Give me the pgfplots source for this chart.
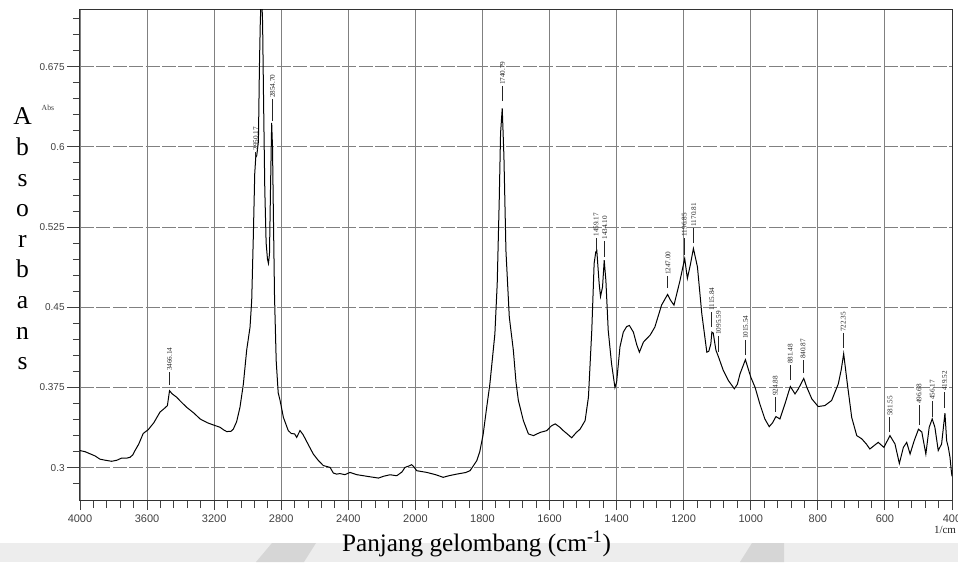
\documentclass[border=0pt]{standalone}
\usepackage{pgfplots}
\pgfplotsset{compat=1.18}
\usepackage{fontspec}
\setmainfont{Liberation Serif}
\newfontfamily\sansf{Liberation Sans}
\newcommand{\pkfont}{\fontsize{3.6}{4}\selectfont}
\newcommand{\pk}[4]{\node[rotate=90, anchor=west, inner sep=0pt, font=\pkfont, text=black!85] at (axis cs:#1,#2) {\rule[1.0pt]{#3}{0.45pt}\hspace{0.6pt}#4};}
\begin{document}
\begin{tikzpicture}
% faint watermark band at the bottom of the scan
\fill[black!7] (-40pt,-31pt) rectangle (439pt,-21.5pt);
\fill[black!16] (88pt,-31pt) -- (96pt,-21.5pt) -- (118pt,-21.5pt) -- (112pt,-31pt) -- cycle;
\fill[black!16] (330pt,-31pt) -- (336pt,-21.5pt) -- (352pt,-21.5pt) -- (352pt,-31pt) -- cycle;
\begin{axis}[
  scale only axis, width=436pt, height=245pt,
  xmin=4000, xmax=400, ymin=0.2698, ymax=0.728,
  x coord trafo/.code={\pgfmathparse{(4000-#1)/400+max(0,2000-#1)/400}},
  xtick={4000,3600,3200,2800,2400,2000,1800,1600,1400,1200,1000,800,600,400},
  xticklabels={4000,3600,3200,2800,2400,2000,1800,1600,1400,1200,1000,800,600,400},
  minor x tick num=4,
  ytick={0.3,0.375,0.45,0.525,0.6,0.675},
  yticklabels={0.3,0.375,0.45,0.525,0.6,0.675},
  minor ytick={0.285,0.315,0.33,0.345,0.36,0.39,0.405,0.42,0.435,0.465,0.48,0.495,0.51,0.54,0.555,0.57,0.585,0.615,0.63,0.645,0.66,0.69,0.705,0.72},
  tick pos=left,
  tick align=outside,
  major tick length=6.5pt, minor tick length=3.5pt,
  xtick style={/pgfplots/major tick length=5pt, /pgfplots/minor tick length=4pt},
  every tick/.style={black!75, line width=0.45pt},
  axis line style={black!80, line width=0.5pt},
  grid=major,
  major grid style={black!50, line width=0.45pt},
  y grid style={dash pattern=on 7pt off 1.2pt},
  /pgf/number format/assume math mode=true,
  xticklabel style={font=\sansf\fontsize{5.5}{6}\selectfont, text=black!75, inner sep=0.5pt},
  yticklabel style={font=\sansf\fontsize{5}{6}\selectfont, text=black!75, inner sep=1pt},
]
\addplot[black, line width=0.5pt] coordinates {
(4000,0.316) (3970,0.315) (3940,0.313) (3910,0.311) (3881,0.308) (3850,0.307) (3811,0.306) (3780,0.307)
(3752,0.309) (3720,0.309) (3702,0.3097) (3685,0.312) (3672,0.316) (3650,0.322) (3623,0.332) (3593,0.3356)
(3560,0.342) (3523,0.352) (3500,0.355) (3479,0.358) (3466,0.372) (3450,0.369) (3424,0.366) (3400,0.362)
(3364,0.3565) (3320,0.351) (3284,0.3456) (3240,0.342) (3205,0.340) (3165,0.3378) (3140,0.335) (3125,0.3338)
(3100,0.334) (3086,0.336) (3066,0.343) (3046,0.3565) (3026,0.378) (3006,0.41) (2986,0.4315) (2976,0.4566)
(2966,0.519) (2958,0.575) (2952,0.590) (2946,0.592) (2936,0.605) (2930,0.675) (2925,0.715) (2921,0.735)
(2915,0.735) (2911,0.715) (2905,0.64) (2898,0.56) (2890,0.51) (2882,0.495) (2876,0.491) (2870,0.50)
(2864,0.56) (2857,0.6225) (2852,0.60) (2847,0.54) (2840,0.46) (2830,0.40) (2818,0.37) (2807,0.363)
(2787,0.347) (2758,0.3347) (2740,0.332) (2720,0.3316) (2708,0.3284) (2688,0.3347) (2670,0.331) (2650,0.325)
(2609,0.3128) (2580,0.307) (2549,0.302) (2509,0.3003) (2489,0.295) (2470,0.294) (2450,0.2945) (2420,0.2935)
(2390,0.2956) (2350,0.2935) (2310,0.2925) (2270,0.2915) (2220,0.2903) (2190,0.292) (2151,0.2934) (2111,0.2925)
(2080,0.296) (2062,0.3003) (2040,0.3015) (2022,0.3028) (2010,0.301) (1996,0.2972) (1966,0.2956) (1940,0.2935)
(1917,0.291) (1900,0.2925) (1877,0.294) (1850,0.2955) (1837,0.2972) (1817,0.3066) (1808,0.315) (1798,0.331)
(1788,0.355) (1778,0.378) (1763,0.425) (1756,0.472) (1750,0.55) (1746,0.6128) (1741,0.636) (1736,0.591)
(1730,0.503) (1720,0.441) (1708,0.41) (1700,0.38) (1693,0.363) (1678,0.344) (1663,0.3316) (1648,0.33)
(1628,0.333) (1608,0.3347) (1595,0.339) (1583,0.341) (1570,0.338) (1559,0.3347) (1545,0.331) (1534,0.328)
(1520,0.333) (1509,0.336) (1494,0.344) (1484,0.366) (1474,0.4284) (1467,0.491) (1462,0.502) (1459,0.503)
(1455,0.485) (1452,0.472) (1448,0.46) (1442,0.469) (1437,0.494) (1432,0.475) (1425,0.4284) (1415,0.397)
(1405,0.375) (1400,0.38) (1390,0.413) (1380,0.4268) (1370,0.432) (1362,0.433) (1350,0.4268) (1340,0.415)
(1332,0.408) (1320,0.4175) (1300,0.424) (1286,0.4315) (1266,0.452) (1248,0.462) (1240,0.457) (1229,0.452)
(1211,0.475) (1197,0.4956) (1189,0.477) (1180,0.49) (1171,0.505) (1159,0.4878) (1146,0.444) (1131,0.408)
(1125,0.409) (1119,0.416) (1116,0.4268) (1112,0.426) (1104,0.41) (1096,0.4034) (1082,0.391) (1067,0.3816)
(1049,0.3738) (1040,0.378) (1032,0.3878) (1016,0.401) (1000,0.3847) (987,0.375) (973,0.3597) (958,0.3456)
(945,0.3384) (935,0.342) (925,0.3478) (913,0.3456) (898,0.3597) (888,0.370) (882,0.3759) (868,0.369)
(858,0.3738) (842,0.3835) (833,0.3753) (818,0.3644) (799,0.3572) (779,0.3581) (759,0.3628) (739,0.3784)
(730,0.392) (723,0.4066) (712,0.3784) (699,0.347) (684,0.33) (669,0.327) (655,0.322) (645,0.3175)
(620,0.3237) (603,0.319) (585,0.33) (570,0.3222) (557,0.304) (545,0.319) (535,0.3237) (525,0.3128)
(513,0.325) (500,0.336) (490,0.3334) (478,0.3128) (468,0.3378) (459,0.3456) (451,0.3378) (441,0.316)
(431,0.3222) (421,0.351) (416,0.3253) (411,0.319) (406,0.3097) (402,0.297) (400,0.292)
};
\pk{3466}{0.3769}{6.5pt}{3466.14}
\pk{2952}{0.5906}{2.5pt}{2950.17}
\pk{2852}{0.6237}{11pt}{2854.70}
\pk{1740}{0.6425}{7.5pt}{1740.79}
\pk{1461}{0.5034}{6pt}{1459.17}
\pk{1435}{0.4969}{8pt}{1434.10}
\pk{1247}{0.4675}{6pt}{1247.00}
\pk{1198}{0.4988}{8.5pt}{1196.85}
\pk{1170}{0.51}{7.5pt}{1170.81}
\pk{1116}{0.4315}{7.5pt}{1115.84}
\pk{1096}{0.408}{8pt}{1095.59}
\pk{1016}{0.405}{7.5pt}{1015.54}
\pk{927}{0.3518}{7.5pt}{924.88}
\pk{882}{0.3816}{7.5pt}{881.48}
\pk{844}{0.388}{6.5pt}{840.87}
\pk{724}{0.4116}{7.5pt}{722.35}
\pk{585}{0.3331}{7.5pt}{581.55}
\pk{498}{0.3394}{10pt}{496.68}
\pk{459}{0.3472}{8pt}{456.17}
\pk{422}{0.3553}{8pt}{419.52}
\end{axis}
\node[font=\fontsize{3.9}{4.5}\selectfont, text=black!75] at (-16pt,196pt) {Abs};
\node[font=\fontsize{5.5}{6}\selectfont, text=black!85] at (432.5pt,-15pt) {1/cm};
\node[font=\fontsize{12.8}{15.3}\selectfont, align=center, inner sep=0pt] at (-28.75pt,130.5pt) {A\\b\\s\\o\\r\\b\\a\\n\\s};
\node[font=\fontsize{12.6}{14}\selectfont, anchor=base, inner sep=0pt] at (198.3pt,-25.5pt) {Panjang gelombang (cm\textsuperscript{-1})};
\pgfresetboundingbox
\path (-40pt,-31pt) rectangle (439pt,250pt);
\end{tikzpicture}
\end{document}
